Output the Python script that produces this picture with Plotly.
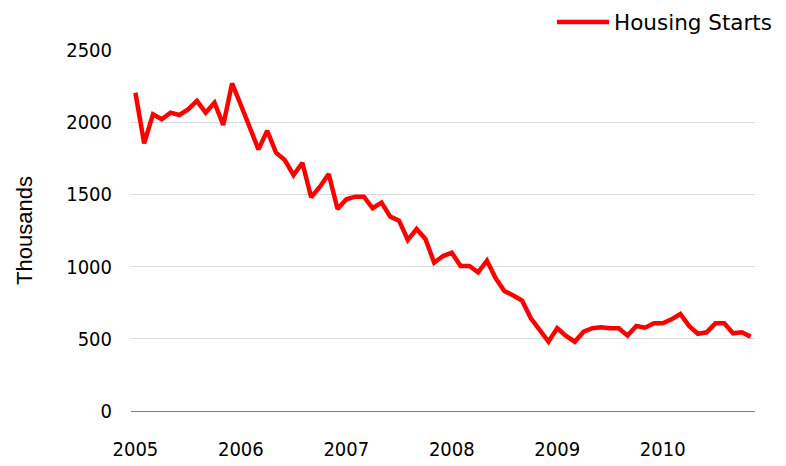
import plotly.graph_objects as go

# Monthly housing starts (thousands)
months = [f"{y}-{m:02d}" for y in range(2005, 2011) for m in range(1, 13)][:71]
starts = [
    2204, 1854, 2055, 2020, 2066, 2050, 2089, 2147, 2066, 2135, 1981, 2269,
    2119, 1969, 1812, 1941, 1789, 1738, 1634, 1719, 1480, 1553, 1641, 1399,
    1466, 1484, 1484, 1404, 1443, 1346, 1318, 1184, 1260, 1191, 1027, 1073,
    1096, 1004, 1004, 960, 1041, 919, 830, 800, 764, 642, 556, 480,
    573, 520, 480, 549, 573, 580, 573, 573, 522, 589, 577, 607,
    607, 635, 672, 589, 535, 545, 607, 607, 538, 545, 515,
]
tick_vals = ["2005-01", "2006-01", "2007-01", "2008-01", "2009-01", "2010-01"]
tick_text = ["2005", "2006", "2007", "2008", "2009", "2010"]
y_ticks = [0, 500, 1000, 1500, 2000, 2500]

TICK_FONT = "DejaVu Sans Condensed, DejaVu Sans"
TITLE_FONT = "Liberation Sans"
LEGEND_FONT = "DejaVu Sans"

fig = go.Figure()
fig.add_trace(go.Scatter(
    x=months, y=starts, mode="lines", name="Housing Starts",
    line=dict(color="#FF0000", width=4.5),
))

# The page body adds an 8px margin, so the figure is 8px smaller on each axis
fig.update_layout(
    width=778, height=458,
    margin=dict(l=123, r=31, t=42, b=55, autoexpand=False),
    paper_bgcolor="white", plot_bgcolor="white",
    font=dict(family=TICK_FONT, size=20, color="#000000"),
    showlegend=True,
    legend=dict(
        x=0.6747, xanchor="left", y=1.0776, yanchor="middle",
        font=dict(family=LEGEND_FONT, size=21.5, color="#000000"),
        bgcolor="rgba(0,0,0,0)", itemwidth=52,
    ),
)
fig.update_xaxes(
    type="category", tickmode="array", tickvals=tick_vals, ticktext=tick_text,
    showgrid=False, showline=True, linecolor="#7f7f7f", linewidth=1,
    ticks="", ticklabelstandoff=20, range=[-0.5, 70.5], automargin=False,
    tickfont=dict(family=TICK_FONT, size=20),
)
fig.update_yaxes(
    range=[0, 2500], tickvals=y_ticks, showgrid=True, gridcolor="#d9d9d9",
    gridwidth=1, zeroline=False, showline=False, ticks="", automargin=False,
    ticklabelstandoff=18, tickfont=dict(family=TICK_FONT, size=20),
    title=dict(text="Thousands", font=dict(family=TITLE_FONT, size=22), standoff=27),
)

fig.write_html("out.html")
